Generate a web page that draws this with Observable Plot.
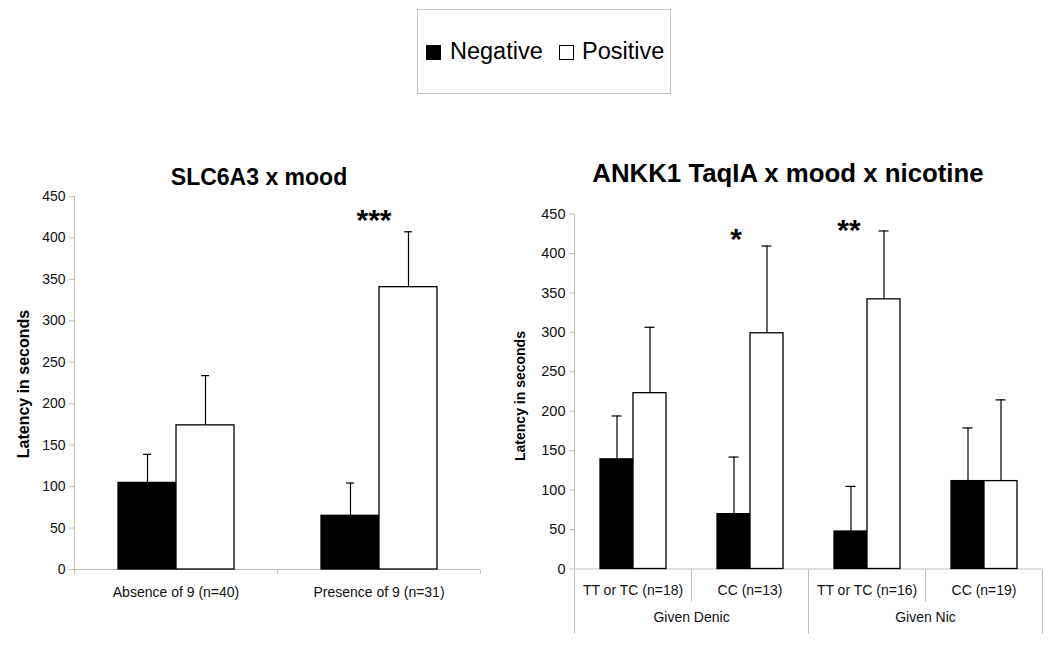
<!DOCTYPE html>
<html><head><meta charset="utf-8">
<script src="https://cdn.jsdelivr.net/npm/d3@7"></script>
<script src="https://cdn.jsdelivr.net/npm/@observablehq/plot@0.6"></script>
<style>
html,body{margin:0;padding:0;background:#fff;}
#root{position:relative;width:1050px;height:664px;overflow:hidden;font-family:"Liberation Sans",Arial,sans-serif;color:#000;}
.abs{position:absolute;white-space:nowrap;}
svg{display:block;}
</style></head><body><div id="root"></div>
<script>
// ---------- data ----------
const series = ["Negative", "Positive"];
const yTicks = [0, 50, 100, 150, 200, 250, 300, 350, 400, 450];
const yLabel = "Latency in seconds";

const leftTitle = "SLC6A3 x mood";
const leftGroups = ["Absence of 9 (n=40)", "Presence of 9 (n=31)"];
const leftNeg = [104.5, 64.8];
const leftNegErr = [138.9, 104.3];
const leftPos = [173.9, 340.6];
const leftPosErr = [233.9, 407.4];
const leftStars = [{group: "Presence of 9 (n=31)", label: "***"}];

const rightTitle = "ANKK1 TaqIA x mood x nicotine";
const rightGroups = ["TT or TC (n=18)", "CC (n=13)", "TT or TC (n=16)", "CC (n=19)"];
const rightSuper = ["Given Denic", "Given Denic", "Given Nic", "Given Nic"];
const rightNeg = [139.0, 69.5, 47.5, 111.4];
const rightNegErr = [194.0, 141.9, 104.7, 178.8];
const rightPos = [222.9, 298.8, 341.8, 111.4];
const rightPosErr = [306.4, 409.4, 428.5, 214.4];
const rightStars = [{group: "CC (n=13)", label: "*"}, {group: "TT or TC (n=16)", label: "**"}];

// ---------- helpers ----------
const FONT = "Liberation Sans, Arial, sans-serif";
const AXIS = "#bdbdbd";
const root = document.getElementById("root");

function addText(txt, o) {
  const d = document.createElement("div");
  d.className = "abs";
  d.textContent = txt;
  d.style.fontSize = o.size + "px";
  d.style.lineHeight = o.size + "px";
  d.style.fontWeight = o.weight || "normal";
  d.style.color = o.color || "#000";
  if (o.rotate) {
    d.style.left = o.cx + "px";
    d.style.top = o.cy + "px";
    d.style.transform = "translate(-50%,-50%) rotate(-90deg)";
  } else if (o.cx != null) {
    d.style.left = (o.cx - 400) + "px";
    d.style.width = "800px";
    d.style.textAlign = "center";
    d.style.top = (o.baseline - 0.8465 * o.size) + "px";
  } else {
    d.style.left = o.left + "px";
    d.style.top = (o.baseline - 0.8465 * o.size) + "px";
  }
  root.appendChild(d);
  return d;
}

function makeRows(groups, neg, negErr, pos, posErr) {
  return groups.flatMap((g, i) => [
    {group: g, series: series[0], value: neg[i], err: negErr[i]},
    {group: g, series: series[1], value: pos[i], err: posErr[i]}
  ]);
}

function buildPanel(cfg) {
  const rows = makeRows(cfg.groups, cfg.neg, cfg.negErr, cfg.pos, cfg.posErr);
  const chart = Plot.plot({
    width: cfg.width, height: cfg.height,
    marginLeft: cfg.ml, marginRight: cfg.mr, marginTop: cfg.mt, marginBottom: cfg.mb,
    style: {fontFamily: FONT, fontSize: "14px", background: "transparent", color: "#111", overflow: "visible"},
    fx: {domain: cfg.groups, paddingInner: 0, paddingOuter: 0, label: null},
    x: {domain: series, paddingInner: 0, paddingOuter: cfg.pad, axis: null},
    y: {domain: [0, 450]},
    color: {domain: series, range: ["#000", "#fff"]},
    marks: [
      Plot.ruleY([0], {stroke: AXIS}),
      Plot.barY(rows, {fx: "group", x: "series", y: "value", fill: "series", stroke: "#000", strokeWidth: 1.3}),
      Plot.ruleX(rows, {fx: "group", x: "series", y1: "value", y2: "err", stroke: "#000", strokeWidth: 1.2}),
      Plot.tickY(rows, {fx: "group", x: "series", y: "err", stroke: "#000", strokeWidth: 1.2, insetLeft: cfg.capInset, insetRight: cfg.capInset}),
      Plot.axisY(yTicks, {tickSize: 5, tickPadding: 4, stroke: AXIS, fill: "#111", fontSize: cfg.tickFont, label: null}),
      Plot.axisFx({anchor: "bottom", tickSize: 0, tickPadding: cfg.catPad, fill: "#111", fontSize: 14, label: null}),
      ...cfg.extra(rows)
    ]
  });
  // axis lines / separators drawn from the chart's own scales
  const fx = chart.scale("fx"), y = chart.scale("y");
  const y0 = Math.round(y.apply(0)) + 0.5, yTop = y.apply(450);
  const bw = fx.bandwidth;
  const g = d3.select(chart).append("g").attr("stroke", AXIS).attr("fill", "none");
  const edges = cfg.groups.map(k => fx.apply(k)).concat([fx.apply(cfg.groups[cfg.groups.length - 1]) + bw]);
  const xL = Math.round(edges[0]) + 0.5;
  g.append("line").attr("x1", xL).attr("x2", xL).attr("y1", yTop).attr("y2", y0);
  edges.forEach((e, k) => {
    const xx = Math.round(e) + 0.5;
    const len = cfg.sepLen(k);
    g.append("line").attr("x1", xx).attr("x2", xx).attr("y1", y0).attr("y2", y0 + len);
  });
  const wrap = document.createElement("div");
  wrap.className = "abs";
  wrap.style.left = cfg.left + "px";
  wrap.style.top = cfg.top + "px";
  wrap.appendChild(chart);
  root.appendChild(wrap);
}

// ---------- legend ----------
const leg = document.createElement("div");
leg.className = "abs";
Object.assign(leg.style, {left: "417px", top: "9px", width: "254px", height: "85px", border: "1px solid #c4c4c4", boxSizing: "border-box"});
root.appendChild(leg);
const sw1 = document.createElement("div");
sw1.className = "abs";
Object.assign(sw1.style, {left: "426px", top: "45px", width: "15px", height: "15px", background: "#000"});
root.appendChild(sw1);
const sw2 = document.createElement("div");
sw2.className = "abs";
Object.assign(sw2.style, {left: "559px", top: "45px", width: "15px", height: "15px", background: "#fff", border: "1px solid #000", boxSizing: "border-box"});
root.appendChild(sw2);
addText(series[0], {left: 450, baseline: 60, size: 23.5});
addText(series[1], {left: 582, baseline: 60, size: 23.5});

// ---------- left panel ----------
const posErrOf = (groups, errs) => g => errs[groups.indexOf(g)];
const leftStarRows = leftStars.map(s => ({...s, y: posErrOf(leftGroups, leftPosErr)(s.group)}));
buildPanel({
  left: 0, top: 150, width: 500, height: 490, ml: 73, mr: 20, mt: 46, mb: 71,
  groups: leftGroups, neg: leftNeg, negErr: leftNegErr, pos: leftPos, posErr: leftPosErr,
  pad: 0.725, capInset: 25, tickFont: 14, catPad: 18,
  sepLen: () => 4,
  extra: () => [
    Plot.text(leftStarRows, {fx: "group", y: "y", text: "label", fontSize: 30, fontWeight: "bold", fill: "#000", dy: -11, dx: -5})
  ]
});
addText(leftTitle, {cx: 259, baseline: 185, size: 23, weight: "bold"});
addText(yLabel, {rotate: true, cx: 24, cy: 384, size: 16, weight: "bold"});

// ---------- right panel ----------
const rightStarRows = rightStars.map(s => ({...s, series: series[0], y: posErrOf(rightGroups, rightPosErr)(s.group)}));
const superRows = rightSuper
  .map((s, i) => ({label: s, i}))
  .filter(d => d.i === 0 || rightSuper[d.i - 1] !== d.label)
  .map(d => ({label: d.label, group: rightGroups[d.i]}));
buildPanel({
  left: 500, top: 150, width: 550, height: 490, ml: 73, mr: 8, mt: 63.5, mb: 71.5,
  groups: rightGroups, neg: rightNeg, negErr: rightNegErr, pos: rightPos, posErr: rightPosErr,
  pad: 0.76, capInset: 11.5, tickFont: 14.5, catPad: 16.5,
  sepLen: k => (k === 0 || k === rightGroups.length || rightSuper[k] !== rightSuper[k - 1]) ? 64 : 32,
  extra: () => [
    Plot.text([rightStarRows[0]], {fx: "group", x: "series", y: "y", text: "label", fontSize: 30, fontWeight: "bold", fill: "#000", dy: -7, dx: 2}),
    Plot.text([rightStarRows[1]], {fx: "group", x: "series", y: "y", text: "label", fontSize: 30, fontWeight: "bold", fill: "#000", dy: -1, dx: -2}),
    Plot.text(superRows, {fx: "group", text: "label", frameAnchor: "bottom-right", textAnchor: "middle", dy: 53, fontSize: 14, fill: "#111"})
  ]
});
addText(rightTitle, {cx: 788, baseline: 183, size: 25.8, weight: "bold"});
addText(yLabel, {rotate: true, cx: 520, cy: 396, size: 14, weight: "bold"});
</script></body></html>
